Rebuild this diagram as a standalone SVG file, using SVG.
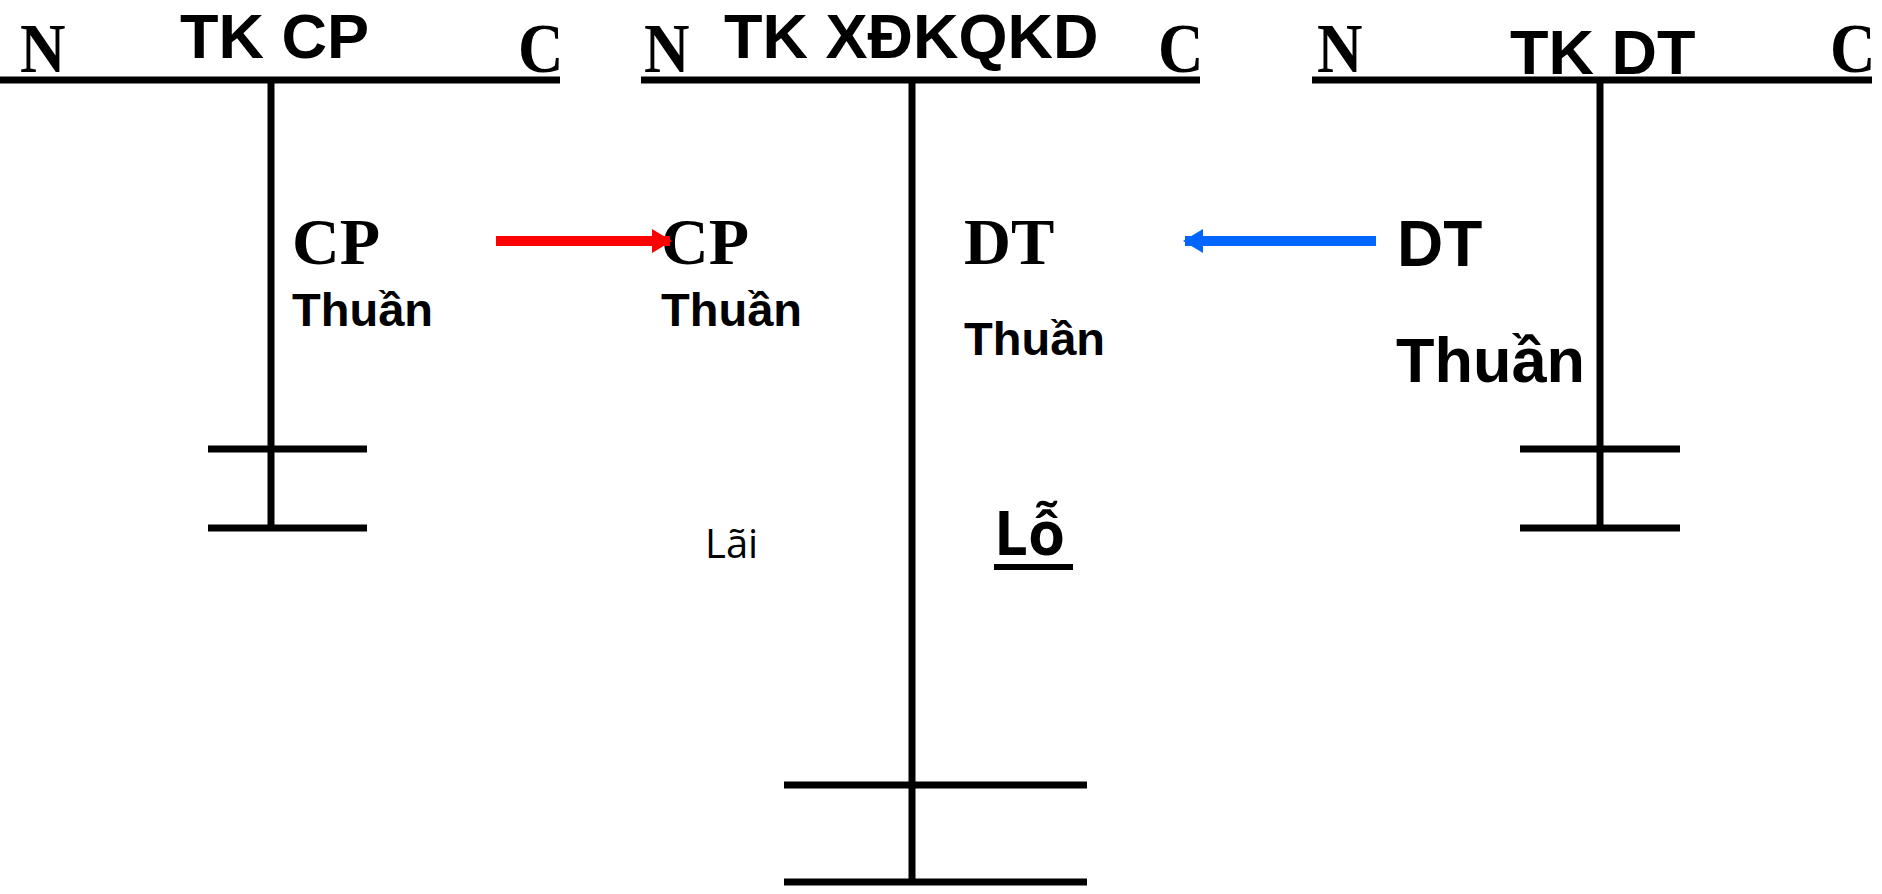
<svg xmlns="http://www.w3.org/2000/svg" width="1882" height="894" viewBox="0 0 1882 894">
  <style>
    .ln { stroke: #000; stroke-width: 7; fill: none; }
    .serif { font-family: "Liberation Serif", "Times New Roman", serif; font-weight: bold; fill: #000; }
    .nc { font-family: "Liberation Serif", "Times New Roman", serif; font-weight: bold; fill: #000; font-size: 70px; }
    .sans { font-family: "Liberation Sans", Arial, sans-serif; font-weight: bold; fill: #000; }
    .cal { font-family: "Open Sans", "Liberation Sans", sans-serif; fill: #000; }
  </style>
  <defs>
    <marker id="redHead" markerUnits="userSpaceOnUse" markerWidth="20" markerHeight="24" refX="18" refY="12" orient="auto">
      <path d="M0,0 L20,12 L0,24 Z" fill="#FF0000"/>
    </marker>
    <marker id="blueHead" markerUnits="userSpaceOnUse" markerWidth="20" markerHeight="24" refX="18" refY="12" orient="auto">
      <path d="M0,0 L20,12 L0,24 Z" fill="#0066FF"/>
    </marker>
  </defs>
  <rect width="1882" height="894" fill="#fff"/>

  <g id="tk-cp">
    <line class="ln" x1="0" y1="80" x2="560" y2="80"/>
    <line class="ln" x1="271" y1="80" x2="271" y2="531"/>
    <line class="ln" x1="208" y1="449" x2="367" y2="449"/>
    <line class="ln" x1="208" y1="528" x2="367" y2="528"/>
    <text class="nc" transform="translate(20,72) scale(0.9,1)">N</text>
    <text class="sans" x="180" y="58" font-size="63">TK CP</text>
    <text class="nc" transform="translate(518,72) scale(0.9,1)">C</text>
    <text class="serif" x="292" y="264" font-size="66">CP</text>
    <text class="sans" x="292" y="326" font-size="47">Thuần</text>
  </g>

  <g id="tk-xdkqkd">
    <line class="ln" x1="641" y1="80" x2="1200" y2="80"/>
    <line class="ln" x1="912" y1="80" x2="912" y2="885"/>
    <line class="ln" x1="784" y1="785" x2="1087" y2="785"/>
    <line class="ln" x1="784" y1="882" x2="1087" y2="882"/>
    <text class="nc" transform="translate(644,72) scale(0.9,1)">N</text>
    <text class="sans" x="724" y="58" font-size="63">TK XĐKQKD</text>
    <text class="nc" transform="translate(1158,72) scale(0.9,1)">C</text>
    <text class="serif" x="661" y="264" font-size="66">CP</text>
    <text class="sans" x="661" y="326" font-size="47">Thuần</text>
    <text class="serif" x="964" y="264" font-size="65">DT</text>
    <text class="sans" x="964" y="355" font-size="47">Thuần</text>
    <text class="cal" x="705" y="558" font-size="40">Lãi</text>
    <text class="cal" x="994" y="555" font-size="60" font-weight="bold">Lỗ</text>
    <line x1="994" y1="567" x2="1073" y2="567" stroke="#000" stroke-width="6"/>
  </g>

  <g id="tk-dt">
    <line class="ln" x1="1312" y1="80" x2="1872" y2="80"/>
    <line class="ln" x1="1600" y1="80" x2="1600" y2="531"/>
    <line class="ln" x1="1520" y1="449" x2="1680" y2="449"/>
    <line class="ln" x1="1520" y1="528" x2="1680" y2="528"/>
    <text class="nc" transform="translate(1317,72) scale(0.9,1)">N</text>
    <text class="sans" x="1510" y="74" font-size="63">TK DT</text>
    <text class="nc" transform="translate(1830,72) scale(0.9,1)">C</text>
    <text class="sans" x="1397" y="266" font-size="64">DT</text>
    <text class="sans" x="1396" y="382" font-size="63">Thuần</text>
  </g>

  <g id="connectors">
    <line x1="496" y1="241" x2="670" y2="241" stroke="#FF0000" stroke-width="10" marker-end="url(#redHead)"/>
    <line x1="1376" y1="241" x2="1185" y2="241" stroke="#0066FF" stroke-width="10" marker-end="url(#blueHead)"/>
  </g>
</svg>
